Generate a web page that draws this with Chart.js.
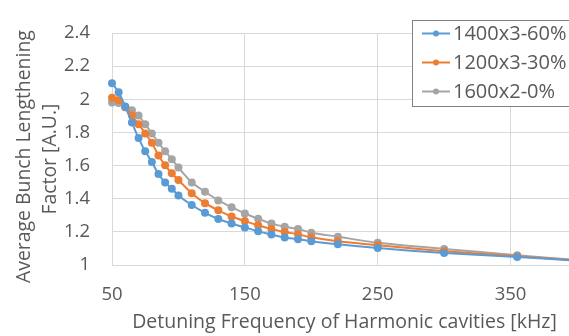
<!DOCTYPE html>
<html>
<head>
<meta charset="utf-8">
<script src="https://cdn.jsdelivr.net/npm/chart.js@4/dist/chart.umd.min.js"></script>
<style>
  html, body { margin: 0; padding: 0; background: #fff; overflow: hidden; }
  #myChart { display: block; }
</style>
</head>
<body>
<canvas id="myChart" width="581" height="336" style="width:581px;height:336px"></canvas>
<script>
// detuning frequency [kHz]
const frecuencias = [50, 55, 60, 65, 70, 75, 80, 85, 90, 95, 100, 110, 120, 130, 140, 150, 160, 170, 180, 190, 200, 220, 250, 300, 355, 400];
const serie1400 = [2.097, 2.043, 1.957, 1.860, 1.766, 1.686, 1.622, 1.549, 1.498, 1.461, 1.420, 1.362, 1.315, 1.278, 1.251, 1.227, 1.203, 1.184, 1.166, 1.156, 1.143, 1.125, 1.102, 1.072, 1.049, 1.026];
const serie1200 = [2.009, 1.996, 1.953, 1.902, 1.850, 1.794, 1.738, 1.661, 1.602, 1.554, 1.513, 1.433, 1.373, 1.330, 1.293, 1.265, 1.240, 1.218, 1.199, 1.186, 1.167, 1.143, 1.119, 1.083, 1.053, 1.028];
const serie1600 = [1.981, 1.978, 1.953, 1.934, 1.902, 1.850, 1.794, 1.738, 1.686, 1.639, 1.588, 1.498, 1.442, 1.390, 1.349, 1.311, 1.279, 1.250, 1.231, 1.218, 1.195, 1.171, 1.134, 1.097, 1.059, 1.030];
const nombres = ['1400x3-60%', '1200x3-30%', '1600x2-0%'];
const colores = ['#5B9BD5', '#ED7D31', '#A5A5A5'];
const ticksX = [50, 150, 250, 350];

const fuente = 'Open Sans';
const gris = '#595959';

function armarDataset(valores, i) {
    return {
        label: nombres[i],
        data: frecuencias.map((f, j) => ({x: f, y: valores[j]})),
        borderColor: colores[i],
        backgroundColor: colores[i],
        borderWidth: 2,
        pointRadius: 4,
        pointHoverRadius: 4,
        pointBorderWidth: 0,
        tension: 0.2,
        clip: false
    };
}

// legend box with border, like the original
const leyendaCaja = {
    id: 'leyendaCaja',
    afterDraw(chart) {
        const ctx = chart.ctx;
        ctx.save();
        ctx.fillStyle = '#fff';
        ctx.strokeStyle = '#808080';
        ctx.lineWidth = 1;
        ctx.fillRect(412.5, 20.5, 200, 86);
        ctx.strokeRect(412.5, 20.5, 200, 86);
        chart.data.datasets.forEach((ds, i) => {
            const y = 33.5 + i * 29;
            ctx.strokeStyle = ds.borderColor;
            ctx.lineWidth = 2;
            ctx.beginPath();
            ctx.moveTo(422, y);
            ctx.lineTo(450, y);
            ctx.stroke();
            ctx.fillStyle = ds.borderColor;
            ctx.beginPath();
            ctx.arc(436, y, 3, 0, Math.PI * 2);
            ctx.fill();
            ctx.fillStyle = gris;
            ctx.font = '20px "' + fuente + '"';
            ctx.textBaseline = 'middle';
            ctx.textAlign = 'left';
            ctx.fillText(ds.label, 453, y + 1);
        });
        ctx.restore();
    }
};

const ctx = document.getElementById('myChart').getContext('2d');
const myChart = new Chart(ctx, {
    type: 'line',
    data: {
        datasets: [armarDataset(serie1400, 0), armarDataset(serie1200, 1), armarDataset(serie1600, 2)]
    },
    options: {
        responsive: false,
        animation: false,
        layout: { padding: { top: 16, right: 0, left: 0, bottom: 0 } },
        plugins: {
            legend: { display: false },
            tooltip: { enabled: false }
        },
        scales: {
            x: {
                type: 'linear',
                min: 50,
                max: 400,
                afterBuildTicks: s => { s.ticks = ticksX.map(v => ({value: v})); },
                afterFit: s => { s.height = 71; },
                grid: { color: '#D9D9D9', drawTicks: false },
                border: { color: '#D9D9D9' },
                ticks: {
                    padding: 19,
                    color: gris,
                    font: { family: fuente, size: 18.5 },
                    maxRotation: 0
                },
                title: {
                    display: true,
                    text: 'Detuning Frequency of Harmonic cavities [kHz]',
                    color: gris,
                    font: { family: fuente, size: 19.5 },
                    padding: { top: 0, bottom: 2 }
                }
            },
            y: {
                min: 1,
                max: 2.4,
                afterFit: s => { s.width = 112; },
                grid: { color: '#D9D9D9', drawTicks: false },
                border: { color: '#D9D9D9' },
                ticks: {
                    stepSize: 0.2,
                    padding: 22,
                    color: gris,
                    font: { family: fuente, size: 18.5 },
                    callback: v => String(+v.toFixed(1))
                },
                title: {
                    display: true,
                    text: ['Average Bunch Lengthening   ', 'Factor [A.U.]    '],
                    color: gris,
                    font: { family: fuente, size: 19.4, lineHeight: 1.35 },
                    padding: { top: 11, bottom: 0 }
                }
            }
        }
    },
    plugins: [leyendaCaja]
});
</script>
</body>
</html>
